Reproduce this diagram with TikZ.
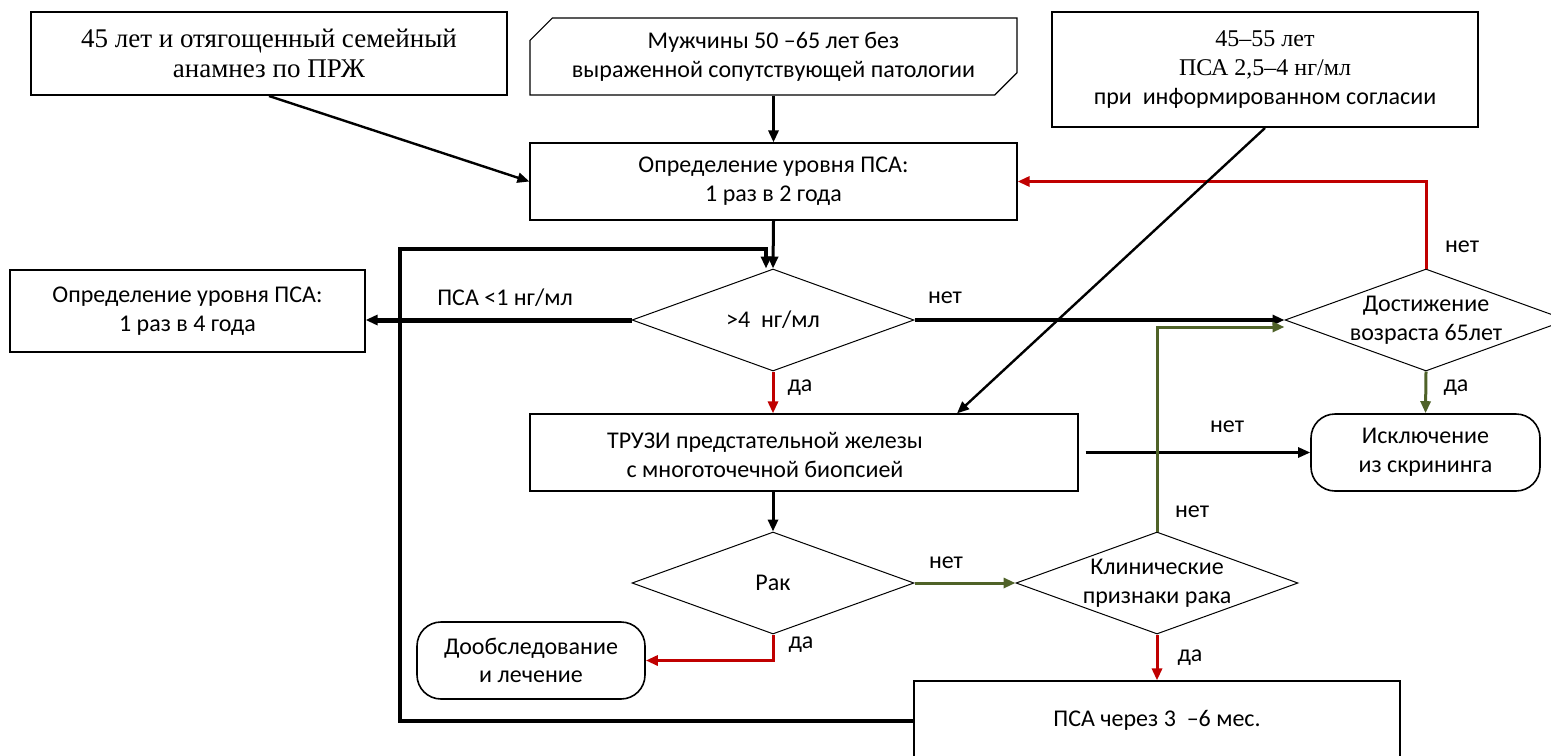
\documentclass[tikz,border=0pt]{standalone}
\usepackage{fontspec}
\setmainfont{Carlito}
\newfontfamily\tnr{Liberation Serif}
\usepackage{tikz}
\usetikzlibrary{calc,positioning,shapes,arrows.meta}
\definecolor{darkred}{RGB}{192,0,0}
\definecolor{darkolive}{RGB}{79,98,40}
\tikzset{
	box/.style={draw, rectangle, align=center, inner sep=2pt, line width=0.6pt},
	softbox/.style={box, rounded corners=12pt, line width=0.8pt},
	decision/.style={draw, diamond, line width=0.5pt, minimum width=141pt, minimum height=51pt, inner sep=0pt},
	lbl/.style={inner sep=1pt},
	flow/.style={-{Triangle[length=6pt,width=5pt]}, line width=1.5pt},
	redflow/.style={flow, darkred},
	greenflow/.style={flow, darkolive}
}

\begin{document}
\begin{tikzpicture}[x=0.5pt, y=-0.5pt, font=\fontsize{12}{14.4}\selectfont]
		\useasboundingbox (0,0) rectangle (1551,755);
		\clip (0,0) rectangle (1551,755);
		% top row
		\node(1) [box, line width=1pt, minimum width=238pt, minimum height=41.5pt, font=\fontsize{13.5}{15}\tnr] at (269,53.5) {45 лет и отягощенный семейный\\анамнез по ПРЖ};
		\node(2) [box, chamfered rectangle, chamfered rectangle corners={north west,south east}, chamfered rectangle xsep=8pt, minimum width=243.5pt, minimum height=38.5pt] at (773.5,56.5) {Мужчины 50 –65 лет без\\выраженной сопутствующей патологии};
		\node(3) [box, line width=1pt, minimum width=213pt, minimum height=57.5pt] at (1265,69.5) {{\tnr 45–55 лет}\\{\tnr ПСА 2,5–4 нг/мл}\\при~ информированном согласии};
		\node(4) [box, minimum width=243.5pt, minimum height=38.5pt] at (773.5,181.5) {Определение уровня ПСА:\\1 раз в 2 года};
		% middle
		\node(5) [decision, label={center:>4~ нг/мл}] at (773,320) {};
		\node(6) [box, minimum width=177.5pt, minimum height=41pt] at (187.5,311) {Определение уровня ПСА:\\1 раз в 4 года};
		\node(7) [decision, label={[align=center]center:Достижение\\возраста 65лет}] at (1426,320) {};
		\node(8) [box, minimum width=274pt, minimum height=38.5pt] at (804,452.5) {};
		\node(9) [align=center] at (765,455) {ТРУЗИ предстательной железы\\с многоточечной биопсией};
		\node(10) [softbox, minimum width=114.5pt, minimum height=38.5pt] at (1425.5,452.5) {Исключение\\из скрининга};
		% bottom
		\node(11) [decision, label={center:Рак}] at (773,583) {};
		\node(12) [decision, label={[align=center]center:Клинические\\признаки рака}] at (1157,583) {};
		\node(13) [softbox, minimum width=114pt, minimum height=38.5pt] at (531,660.5) {Дообследование\\и лечение};
		\node(14) [box, minimum width=243pt, minimum height=39.5pt] at (1157,720.5) {ПСА через 3~ –6 мес.};

		\draw[flow] (2.south) -- (4.north);
		\draw[flow, line width=1.2pt] (1.south) -- (4.west);
		\draw[redflow] (7.north) |- (4.east);
		\draw[flow] (4.south) -- (5.north);
		\draw[flow, line width=2pt] (14.west) -| (400,249) -| ([xshift=-3.5pt]5.north);
		\draw[flow, line width=2.5pt] (5.west) -- (5.west -| 6.east);
		\draw[flow, line width=2pt] (5.east) -- (7.west);
		\draw[flow, line width=1.2pt] (3.south) -- ([xshift=76.5pt]8.north);
		\draw[redflow] (5.south) -- (5.south |- 8.north);
		\draw[flow, line width=1.3pt, shorten <=3.5pt] (8.east) -- (10.west);
		\draw[greenflow] (7.south) -- (10.north);
		\draw[flow] (8.south -| 11.north) -- (11.north);
		\draw[greenflow] (11.east) -- (12.west);
		\draw[greenflow] (12.north) |- ([yshift=-3.5pt]7.west);
		\draw[redflow] (11.south) |- (13.east);
		\draw[redflow] (12.south) -- (14.north);

		\node[lbl] at (1462,247) {нет};
		\node[lbl] at (505,298) {ПСА <1 нг/мл};
		\node[lbl] at (945,298) {нет};
		\node[lbl] at (800,388) {да};
		\node[lbl] at (1456,388) {да};
		\node[lbl] at (1227,427) {нет};
		\node[lbl] at (946,563) {нет};
		\node[lbl] at (1192,512) {нет};
		\node[lbl] at (801,645) {да};
		\node[lbl] at (1190,658) {да};
	\end{tikzpicture}
\end{document}
